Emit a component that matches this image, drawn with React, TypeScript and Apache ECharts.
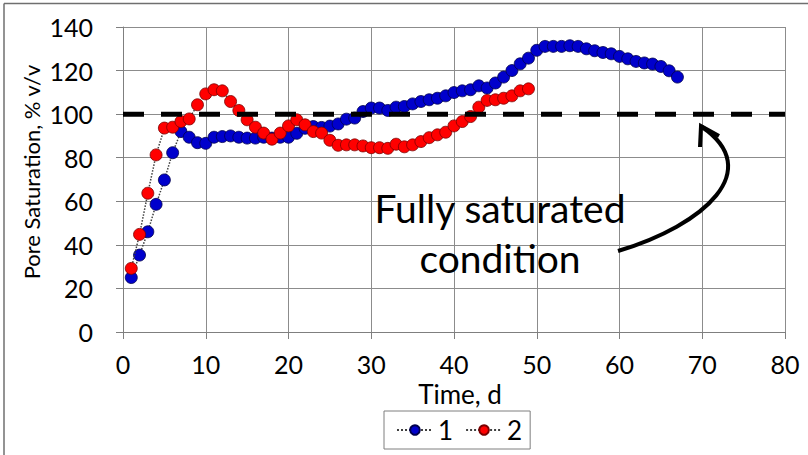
import React, { useEffect, useRef } from "react";
import * as echarts from "echarts";

const days1 = [1,2,3,4,5,6,7,8,9,10,11,12,13,14,15,16,17,18,19,20,21,22,23,24,25,26,27,28,29,30,31,32,33,34,35,36,37,38,39,40,41,42,43,44,45,46,47,48,49,50,51,52,53,54,55,56,57,58,59,60,61,62,63,64,65,66,67];
const sat1 = [25.0,35.3,46,58.6,69.8,82.3,92,89.4,86.9,86.6,89.4,89.7,90,89.4,89,89,89.4,89,89.4,89.4,91.2,93.5,94.3,93.9,94.5,95.5,97.7,98.2,101.2,102.8,102.8,101.7,103.2,103.5,104.7,105.8,106.6,107.3,108.4,109.9,110.7,111.2,113,112,114.3,117,120,123.1,125.7,129.3,131.1,131.1,131.1,131.4,131.1,130,129.1,128.3,127.7,126.5,125.4,124.2,123.5,123,121.9,119.9,117];

const days2 = [1,2,3,4,5,6,7,8,9,10,11,12,13,14,15,16,17,18,19,20,21,22,23,24,25,26,27,28,29,30,31,32,33,34,35,36,37,38,39,40,41,42,43,44,45,46,47,48,49];
const sat2 = [29.2,44.8,63.7,81.3,93.6,94,96.6,97.8,104.3,109.3,111.2,110.7,105.8,101.7,97.4,94,91.3,88.5,91.3,94.6,97.4,95.1,92,91.3,88,85.7,85.9,85.9,85.4,84.6,84.6,84.3,86.2,85,85.9,87.4,89.2,90.5,91.7,94.6,96.6,98.9,103.2,106.3,106.6,107.3,108.4,110.7,111.6];

const fullLineX = [0, 80];
const fullLineY = [100, 100];

const seriesNames = ["1", "2"];
const xTitle = "Time, d";
const yTitle = "Pore Saturation, % v/v";
const noteLines = ["Fully saturated", "condition"];

const FONT = "Lato, 'Open Sans', sans-serif";

export default function App() {
  const ref = useRef<HTMLDivElement>(null);
  useEffect(() => {
    if (!ref.current) return;
    const chart = echarts.init(ref.current, undefined, { renderer: "svg" });
    const pair = (xs: number[], ys: number[]) => xs.map((x, i) => [x, ys[i]]);
    chart.setOption({
      animation: false,
      backgroundColor: "#ffffff",
      textStyle: { fontFamily: FONT },
      grid: { left: 123, right: 23, top: 27, bottom: 123 },
      xAxis: {
        type: "value",
        min: 0,
        max: 80,
        interval: 10,
        axisLine: { show: true, onZero: false, lineStyle: { color: "#7f7f7f", width: 1 } },
        axisTick: { show: true, inside: false, length: 7, lineStyle: { color: "#7f7f7f" } },
        axisLabel: { fontSize: 25, color: "#000", margin: 19, fontFamily: FONT },
        splitLine: { show: true, lineStyle: { color: "#8c8c8c", width: 1 } },
      },
      yAxis: {
        type: "value",
        min: 0,
        max: 140,
        interval: 20,
        axisLine: { show: true, lineStyle: { color: "#7f7f7f", width: 1 } },
        axisTick: { show: true, inside: false, length: 7, lineStyle: { color: "#7f7f7f" } },
        axisLabel: { fontSize: 25, color: "#000", margin: 30, fontFamily: FONT },
        splitLine: { show: true, lineStyle: { color: "#8c8c8c", width: 1 } },
      },
      legend: {
        data: seriesNames,
        left: 384,
        top: 411,
        orient: "horizontal",
        itemWidth: 36,
        itemHeight: 12,
        itemGap: 12,
        padding: [6, 8, 6, 12],
        borderColor: "#7f7f7f",
        borderWidth: 1,
        textStyle: { fontSize: 26, color: "#000", fontFamily: FONT },
      },
      series: [
        {
          name: seriesNames[0],
          type: "line",
          data: pair(days1, sat1),
          symbol: "circle",
          symbolSize: 12,
          z: 2,
          lineStyle: { color: "#404040", width: 1.5, type: "dotted" },
          itemStyle: { color: "#0000CC", borderColor: "#00004d", borderWidth: 0.8 },
        },
        {
          name: seriesNames[1],
          type: "line",
          data: pair(days2, sat2),
          symbol: "circle",
          symbolSize: 12,
          z: 3,
          lineStyle: { color: "#404040", width: 1.5, type: "dotted" },
          itemStyle: { color: "#FF0000", borderColor: "#7a0000", borderWidth: 0.8 },
        },
        {
          name: "full",
          type: "line",
          data: pair(fullLineX, fullLineY),
          symbol: "none",
          silent: true,
          z: 4,
          lineStyle: { color: "#000000", width: 5, type: [21, 17] },
        },
      ],
      graphic: [
        { type: "line", shape: { x1: 4, y1: 3.5, x2: 808, y2: 3.5 }, style: { stroke: "#6f6f6f", lineWidth: 1.5 } },
        { type: "line", shape: { x1: 4, y1: 3.5, x2: 4, y2: 455 }, style: { stroke: "#6f6f6f", lineWidth: 1.5 } },
        {
          type: "text",
          x: 460,
          y: 394,
          style: { text: xTitle, fontSize: 26, fontFamily: FONT, fill: "#000", textAlign: "center", textVerticalAlign: "middle" },
        },
        {
          type: "text",
          x: 31,
          y: 172,
          rotation: Math.PI / 2,
          style: { text: yTitle, fontSize: 22, fontFamily: FONT, fill: "#000", textAlign: "center", textVerticalAlign: "middle" },
        },
        {
          type: "text",
          x: 500,
          y: 208,
          style: { text: noteLines[0], fontSize: 39, fontFamily: FONT, fill: "#000", textAlign: "center", textVerticalAlign: "middle" },
          z: 10,
        },
        {
          type: "text",
          x: 500,
          y: 258,
          style: { text: noteLines[1], fontSize: 39, fontFamily: FONT, fill: "#000", textAlign: "center", textVerticalAlign: "middle" },
          z: 10,
        },
        {
          type: "bezierCurve",
          shape: { x1: 618, y1: 251, x2: 702, y2: 127, cpx1: 705, cpy1: 225, cpx2: 765, cpy2: 170 },
          style: { stroke: "#000", lineWidth: 4, fill: null },
          z: 10,
        },
        {
          type: "polyline",
          shape: { points: [[700, 147], [701, 126], [719, 136]] },
          style: { stroke: "#000", lineWidth: 4, fill: null, lineJoin: "miter" },
          z: 10,
        },
      ],
    });
    return () => chart.dispose();
  }, []);
  return <div ref={ref} style={{ width: 808, height: 455, position: "absolute", left: 0, top: 0 }} />;
}
